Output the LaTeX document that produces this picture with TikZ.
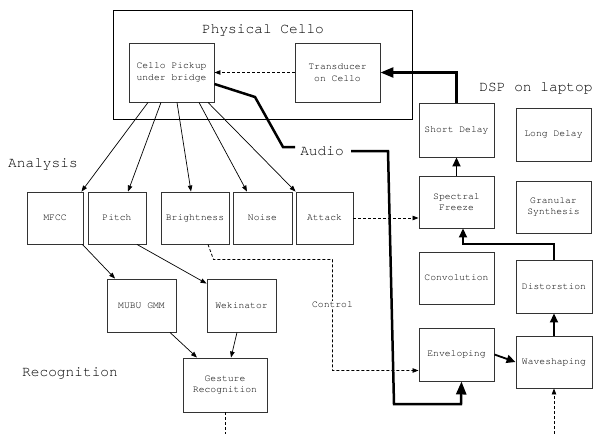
\documentclass[tikz,border=0pt]{standalone}
\usepackage{fontspec}
\setmainfont{texgyrecursor-regular.otf}
\usetikzlibrary{arrows.meta,calc}
\begin{document}
\begin{tikzpicture}[x=1pt,y=-1pt,
  blk/.style={draw=black!80,line width=0.9pt,align=center,inner sep=0pt,font=\fontsize{9.7}{11.5}\selectfont},
  lbl/.style={font=\fontsize{14.5}{16}\selectfont,inner sep=1pt},
  thin/.style={line width=0.7pt,-{Triangle[length=6pt,width=4.5pt]}},
  dsh/.style={line width=0.8pt,dashed,dash pattern=on 3pt off 2pt},
  med/.style={line width=1.8pt,-{Triangle[length=9pt,width=8pt]}},
  big/.style={line width=2.5pt,-{Triangle[length=13pt,width=10pt]}}]
\useasboundingbox (0,0) rectangle (595,434);
% outer box
\node[draw=black,line width=0.8pt,minimum width=299pt,minimum height=109pt,inner sep=0pt] (cello) at (262.5,64.5) {};
\node[lbl] (celloT) at (263,30) {Physical Cello};
\node[blk,minimum width=85pt,minimum height=59pt] (pickup) at (171.5,72.5) {Cello Pickup\\under bridge};
\node[blk,minimum width=85pt,minimum height=59pt] (transducer) at (337.5,72.5) {Transducer\\on Cello};
% DSP
\node[lbl] (dsp) at (536,88) {DSP on laptop};
\node[blk,minimum width=75pt,minimum height=54pt] (short) at (456.5,130) {Short Delay};
\node[blk,minimum width=75pt,minimum height=53pt] (long) at (553.5,134.5) {Long Delay};
\node[blk,minimum width=75pt,minimum height=52pt] (spectral) at (456.5,202) {Spectral\\Freeze};
\node[blk,minimum width=75pt,minimum height=52pt] (granular) at (553.5,207) {Granular\\Synthesis};
\node[blk,minimum width=75pt,minimum height=52pt] (conv) at (456.5,278) {Convolution};
\node[blk,minimum width=75pt,minimum height=53pt] (env) at (456.5,354.5) {Enveloping};
\node[blk,minimum width=76pt,minimum height=53pt] (dist) at (554,286.5) {Distorstion};
\node[blk,minimum width=76pt,minimum height=52pt] (wave) at (554,362) {Waveshaping};
% analysis
\node[lbl] (analysis) at (43,164) {Analysis};
\node[blk,minimum width=56pt,minimum height=52pt] (mfcc) at (55,218) {MFCC};
\node[blk,minimum width=58pt,minimum height=52pt] (pitch) at (117,218) {Pitch};
\node[blk,minimum width=68pt,minimum height=52pt] (bright) at (195,218) {Brightness};
\node[blk,minimum width=59pt,minimum height=52pt] (noise) at (262.5,218) {Noise};
\node[blk,minimum width=57pt,minimum height=52pt] (attack) at (324.5,218) {Attack};
% recognition
\node[lbl] (recog) at (70,373) {Recognition};
\node[blk,minimum width=69pt,minimum height=53pt] (mubu) at (141.5,305.5) {MUBU GMM};
\node[blk,minimum width=69pt,minimum height=53pt] (wek) at (241.5,305.5) {Wekinator};
\node[blk,minimum width=84pt,minimum height=54pt] (gesture) at (225,385) {Gesture\\Recognition};
% audio label
\node[lbl] (audio) at (322,151) {Audio};
\coordinate (wavein) at (554,434);
\coordinate (gestout) at (225,434);
% fan arrows
\draw[thin] ([xshift=-23.5pt]pickup.south) -- ([xshift=-2pt]mfcc.north east);
\draw[thin] ([xshift=-10.5pt]pickup.south) -- ([xshift=11pt]pitch.north);
\draw[thin] ([xshift=5.5pt]pickup.south) -- ([xshift=-4pt]bright.north);
\draw[thin] ([xshift=27.5pt]pickup.south) -- ([xshift=-15.5pt]noise.north);
\draw[thin] ([xshift=36.5pt]pickup.south) -- (attack.north west);
% recognition arrows
\draw[thin] ([xshift=-1pt]mfcc.south east) -- ([xshift=-26.5pt]mubu.north);
\draw[thin] ([xshift=20pt]pitch.south) -- ([yshift=-5pt]wek.north west);
\draw[thin] ([xshift=28.5pt]mubu.south) -- ([xshift=-28pt]gesture.north);
\draw[thin] ([xshift=-4.5pt]wek.south) -- ([xshift=6pt]gesture.north);
% dashed
\draw[dsh,-{Triangle[length=6pt,width=4.5pt]}] (transducer.west) -- (pickup.east);
\draw[dsh,-{Triangle[length=6pt,width=4.5pt]}] (attack.east) -- (attack.east -| spectral.west);
\draw[dsh,-{Triangle[length=6pt,width=4.5pt]}] ([xshift=13pt]bright.south) -- (213.5,259.5) -- (332.5,259.5) -- (332.5,370.5) -- ([yshift=-16pt]env.west);
\node[blk,draw=none,fill=white,inner sep=1pt] (control) at (332.5,305) {Control};
\draw[dsh,-{Triangle[length=6pt,width=4.5pt]}] (wavein) -- (wave.south);
\draw[dsh] (gesture.south) -- (gestout);
% DSP chain
\draw[med] (env.east) -- (wave.west);
\draw[med] (wave.north) -- (dist.south);
\draw[med] (dist.north) -- (554,244) -| ([xshift=6.5pt]spectral.south);
\draw[med] (spectral.north) -- (short.south);
\draw[big] (short.north) |- (transducer.east);
% audio path
\draw[line width=2.5pt,line join=miter] ([yshift=-11.5pt]pickup.east) -- (255,97) -- (283,147) -- (295,147);
\draw[big,line join=miter] (351,151) -- (388,151) -- (394,404) -- (461,404) -- ([xshift=5pt]env.south);
\end{tikzpicture}
\end{document}
